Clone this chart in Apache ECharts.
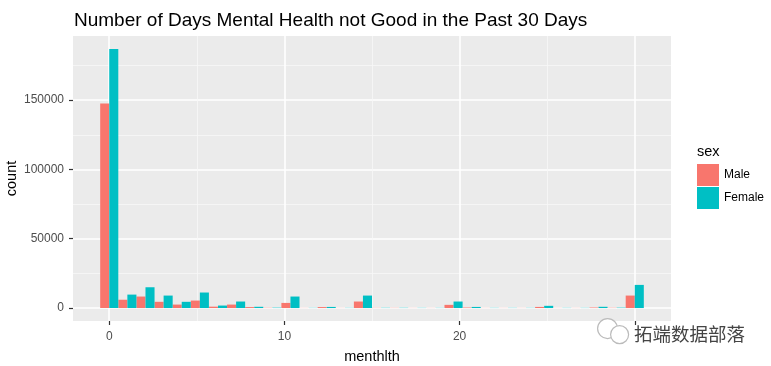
<!DOCTYPE html>
<html><head><meta charset="utf-8">
<script src="https://cdn.jsdelivr.net/npm/echarts@6/dist/echarts.min.js"></script>
<style>html,body{margin:0;padding:0;background:#fff}#c{width:771px;height:366px}</style>
</head><body><div id="c"></div>
<script>
// ---- data (histogram of menthlth, 30 bins, dodged by sex) ----
const binCount = 30;
const binWidth = 30 / 29;
const binLabels = ['0','1','2','3','4','5','6','7','8','9','10','11','12','13','14-15','16','17','18','19','20','21','22','23','24','25','26','27','28','29','30'];
const maleCounts   = [147500,6000,8300,4500,2500,5400,1000,2500,700,200,3700,100,700,100,4700,150,150,100,100,2300,400,100,100,100,800,100,100,400,200,9000];
const femaleCounts = [186900,9700,15000,9000,4500,11200,1800,4700,900,300,8300,150,800,150,9000,200,200,150,150,4700,800,150,150,150,1600,150,150,900,300,16700];
const xTicks = [0,10,20,30];
const xMinorTicks = [5,15,25];
const yTicks = [0,50000,100000,150000];
const yMinorTicks = [25000,75000,125000,175000];
const seriesNames = ['Male','Female'];
const seriesColors = ['#F8766D','#00BFC4'];

// ---- scales (ggplot-like 5% expansion) ----
const xLo = -binWidth/2, xHi = (binCount-1)*binWidth + binWidth/2;
const xExp = (xHi - xLo) * 0.05;
const yMaxData = Math.max(...maleCounts, ...femaleCounts);
const yExp = yMaxData * 0.05;

function renderFor(side){
  return function(params, api){
    const c = api.value(0), v = api.value(1);
    const x0 = side === 0 ? c - binWidth/2 : c;
    const x1 = x0 + binWidth/2;
    const p0 = api.coord([x0, v]);
    const p1 = api.coord([x1, 0]);
    return {type:'rect', shape:{x:p0[0], y:p0[1], width:p1[0]-p0[0], height:p1[1]-p0[1]},
            style:{fill: seriesColors[side]}};
  };
}

const font = 'Liberation Sans, Arial, sans-serif';
const chart = echarts.init(document.getElementById('c'), null, {renderer:'canvas'});
chart.setOption({
  animation:false,
  backgroundColor:'#ffffff',
  grid:{left:73, right:100, top:36, bottom:45, show:true, backgroundColor:'#EBEBEB', borderWidth:0,
        containLabel:false, outerBoundsMode:'none'},
  legend:{
    orient:'vertical', left:697, top:164, padding:0, itemWidth:22, itemHeight:22, itemGap:1,
    icon:'rect', data:seriesNames,
    textStyle:{fontFamily:font, fontSize:12, color:'#000'}
  },
  xAxis:[{
    type:'value', min:xLo - xExp, max:xHi + xExp,
    name:'menthlth', nameLocation:'middle', nameGap:28, nameMoveOverlap:false,
    nameTextStyle:{fontFamily:font, fontSize:14.5, color:'#000'},
    axisLine:{show:false, onZero:false},
    axisTick:{show:true, customValues:xTicks, length:4, lineStyle:{color:'#333333', width:1.2}},
    axisLabel:{customValues:xTicks, margin:10, fontFamily:font, fontSize:12, color:'#4D4D4D'},
    splitLine:{show:true, lineStyle:{color:'#ffffff', width:1.6}}
  },{
    type:'value', min:xLo - xExp, max:xHi + xExp, position:'bottom',
    axisLine:{show:false, onZero:false}, axisLabel:{show:false},
    axisTick:{show:false, customValues:xMinorTicks},
    splitLine:{show:true, lineStyle:{color:'#F7F7F7', width:0.8}}
  }],
  yAxis:[{
    type:'value', min:-yExp, max:yMaxData + yExp,
    name:'count', nameLocation:'middle', nameGap:54, nameRotate:90, nameMoveOverlap:false,
    nameTextStyle:{fontFamily:font, fontSize:14.5, color:'#000'},
    axisLine:{show:false, onZero:false},
    axisTick:{show:true, customValues:yTicks, length:4, lineStyle:{color:'#333333', width:1.2}},
    axisLabel:{customValues:yTicks, margin:9, fontFamily:font, fontSize:12, color:'#4D4D4D',
               formatter:function(v){return String(v);}},
    splitLine:{show:true, lineStyle:{color:'#ffffff', width:1.6}}
  },{
    type:'value', min:-yExp, max:yMaxData + yExp, position:'left',
    axisLine:{show:false, onZero:false}, axisLabel:{show:false},
    axisTick:{show:false, customValues:yMinorTicks},
    splitLine:{show:true, lineStyle:{color:'#F7F7F7', width:0.8}}
  }],
  series:[
    {name:seriesNames[0], type:'custom', renderItem:renderFor(0), itemStyle:{color:seriesColors[0]},
     clip:true, encode:{x:0,y:1}, data: maleCounts.map((v,i)=>[i*binWidth, v])},
    {name:seriesNames[1], type:'custom', renderItem:renderFor(1), itemStyle:{color:seriesColors[1]},
     clip:true, encode:{x:0,y:1}, data: femaleCounts.map((v,i)=>[i*binWidth, v])}
  ],
  graphic:[
    {type:'text', left:74, top:11, style:{text:'Number of Days Mental Health not Good in the Past 30 Days',
      font:'19px ' + font, fill:'#000'}},
    {type:'text', left:697, top:144, style:{text:'sex', font:'14.5px ' + font, fill:'#000'}},
    {type:'rect', left:598, top:326, shape:{width:152, height:20}, style:{fill:'#fff'}, z:100},
    {type:'group', left:597, top:318, z:101, children:[
      {type:'circle', shape:{cx:11, cy:11, r:10}, style:{fill:'#fff', stroke:'#bbb', lineWidth:1.2}, z:101},
      {type:'circle', shape:{cx:23, cy:17, r:9}, style:{fill:'#fff', stroke:'#bbb', lineWidth:1.2}, z:102}
    ]},
    {type:'text', left:633, top:324, z:103, style:{text:'拓端数据部落', font:'18.5px "Noto Sans CJK SC", sans-serif',
      fill:'#444', stroke:'#fff', lineWidth:2}}
  ]
});
</script></body></html>
